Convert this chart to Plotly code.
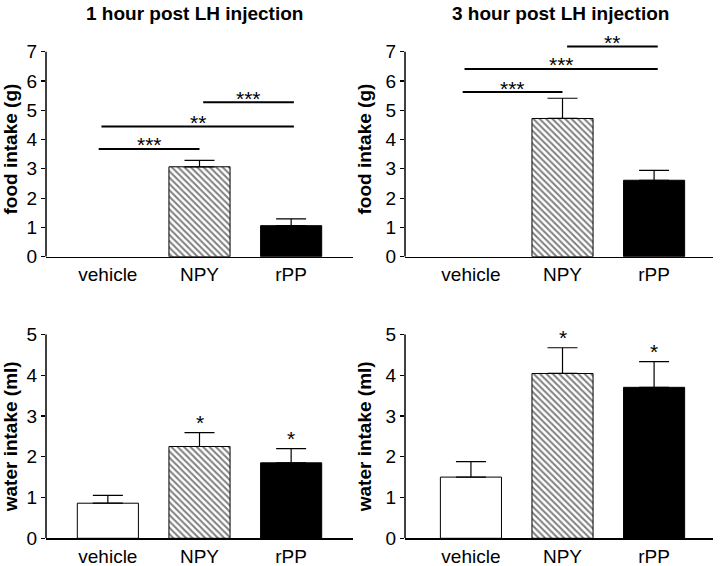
import plotly.graph_objects as go

categories = ["vehicle", "NPY", "rPP"]

# food intake (g)
food_1h = [0.0, 3.07, 1.06]
food_1h_err = [0.0, 0.22, 0.23]
food_3h = [0.0, 4.72, 2.61]
food_3h_err = [0.0, 0.69, 0.34]

# water intake (ml)
water_1h = [0.86, 2.25, 1.85]
water_1h_err = [0.19, 0.34, 0.35]
water_3h = [1.50, 4.04, 3.70]
water_3h_err = [0.38, 0.63, 0.63]

# significance brackets: (from index, to index, height, label)
sig_food_1h = [(-0.1, 1.0, 3.68, "***"), (-0.07, 2.03, 4.45, "**"), (1.04, 2.03, 5.27, "***")]
sig_food_3h = [(-0.09, 1.0, 5.62, "***"), (-0.07, 2.04, 6.41, "***"), (1.05, 2.04, 7.18, "**")]
sig_water_1h = ["", "*", "*"]
sig_water_3h = ["", "*", "*"]

titles = ["1 hour post LH injection", "3 hour post LH injection"]

FONT = "Liberation Sans, Arial, sans-serif"
W, H = 720, 566

def px(v, total):
    return v / total

panels = [
    ("", food_1h, food_1h_err, [-0.675, 2.675], (46, 353), (256.7, 41.45), [0, 7.35], 7, "food intake (g)"),
    ("2", food_3h, food_3h_err, [-0.72, 2.64], (405, 712.7), (256.7, 41.45), [0, 7.35], 7, "food intake (g)"),
    ("3", water_1h, water_1h_err, [-0.675, 2.675], (46, 353), (538.3, 334.3), [0, 5], 5, "water intake (ml)"),
    ("4", water_3h, water_3h_err, [-0.72, 2.64], (405, 712.7), (538.3, 334.3), [0, 5], 5, "water intake (ml)"),
]

fig = go.Figure()
xs = list(range(len(categories)))
fills = ["white", "white", "black"]
shapes_pat = ["", "\\", ""]

shapes = []
annotations = []

for suf, vals, errs, xr, xd, yd, yr, ytop, ytitle in panels:
    xa = "x" + suf
    ya = "y" + suf
    for i in xs:
        fig.add_trace(go.Bar(
            x=[xs[i]], y=[vals[i]], xaxis=xa, yaxis=ya, width=0.667,
            marker=dict(color=fills[i], line=dict(color="black", width=1 if vals[i] > 0 else 0),
                        pattern=dict(shape=shapes_pat[i], fgcolor="black", bgcolor="white",
                                     size=4.5, solidity=0.45)),
            error_y=dict(type="data", symmetric=False, array=[errs[i]], arrayminus=[0],
                         color="black", thickness=1.2, width=15, visible=errs[i] > 0),
            showlegend=False, hoverinfo="skip",
        ))
    lay_x = "xaxis" + suf
    lay_y = "yaxis" + suf
    fig.layout[lay_x] = dict(
        domain=[px(xd[0], W), px(xd[1], W)], range=xr, anchor=ya,
        tickvals=xs, ticktext=categories, showline=True, linecolor="black", linewidth=1.5,
        ticks="", showgrid=False, zeroline=False,
        tickfont=dict(family=FONT, size=19, color="black"), fixedrange=True, automargin=False,
    )
    fig.layout[lay_y] = dict(
        domain=[1 - yd[0] / H, 1 - yd[1] / H], range=yr, anchor=xa,
        tickvals=list(range(0, ytop + 1)), showline=False, ticks="outside", ticklen=4,
        tickwidth=1.2, tickcolor="black", showgrid=False, zeroline=False,
        tickfont=dict(family=FONT, size=19, color="black"), automargin=False, fixedrange=True,
        title=dict(text=ytitle, font=dict(family=FONT, size=19, color="black", weight="bold"), standoff=8),
    )
    shapes.append(dict(type="line", xref=xa + " domain", yref=ya, x0=0, x1=0, y0=0, y1=ytop,
                       line=dict(color="black", width=1.5), layer="above"))

for suf, sigs in (("", sig_food_1h), ("2", sig_food_3h)):
    for x0, x1, yv, lab in sigs:
        shapes.append(dict(type="line", xref="x" + suf, yref="y" + suf, x0=x0, x1=x1, y0=yv, y1=yv,
                           line=dict(color="black", width=2)))
        annotations.append(dict(x=(x0 + x1) / 2, y=yv, xref="x" + suf, yref="y" + suf, text=lab,
                                showarrow=False, yanchor="middle", yshift=4,
                                font=dict(family=FONT, size=21, color="black")))

for suf, vals, errs, labs in (("3", water_1h, water_1h_err, sig_water_1h), ("4", water_3h, water_3h_err, sig_water_3h)):
    for i in xs:
        if labs[i]:
            annotations.append(dict(x=xs[i], y=vals[i] + errs[i], xref="x" + suf, yref="y" + suf,
                                    text=labs[i], showarrow=False, yanchor="middle", yshift=10,
                                    font=dict(family=FONT, size=21, color="black")))

for xc, t in ((194.7, titles[0]), (560, titles[1])):
    annotations.append(dict(x=xc / W, y=1 - 13 / H, xref="paper", yref="paper", text="<b>" + t + "</b>",
                            showarrow=False, xanchor="center", yanchor="middle",
                            font=dict(family=FONT, size=19, color="black")))

fig.update_layout(
    width=W, height=H, margin=dict(l=0, r=0, t=0, b=0),
    paper_bgcolor="white", plot_bgcolor="white", showlegend=False,
    shapes=shapes, annotations=annotations, bargap=0,
)

fig.write_html("out.html", config={"displayModeBar": False, "staticPlot": True},
               post_script="document.body.style.margin='0';document.body.style.overflow='hidden';")
